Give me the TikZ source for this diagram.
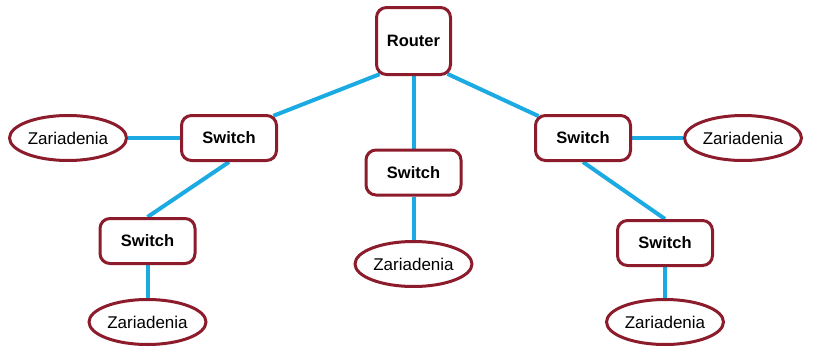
\documentclass[tikz,border=0pt]{standalone}
\usepackage{fontspec}
\setmainfont{Liberation Sans}
\usetikzlibrary{shapes.geometric,backgrounds}
\definecolor{boxred}{HTML}{8C1C2C}
\definecolor{linkblue}{HTML}{1BAAE2}
\begin{document}
\begin{tikzpicture}[x=1pt,y=-1pt,
  devbox/.style={draw=boxred,line width=3pt,rounded corners=10pt,fill=white,
    font=\fontsize{16.5}{19}\selectfont\bfseries,inner sep=0pt},
  swbox/.style={devbox,minimum width=95pt,minimum height=45pt},
  rtbox/.style={devbox,minimum width=74pt,minimum height=67pt},
  endnode/.style={ellipse,draw=boxred,line width=3pt,fill=white,inner sep=0pt,
    minimum width=117pt,minimum height=45pt,font=\fontsize{17}{20}\selectfont},
  link/.style={draw=linkblue,line width=4pt},
  diag/.style={link,shorten <=-5pt,shorten >=-5pt}]
\useasboundingbox (0,0) rectangle (815,356);
\node[rtbox] (r) at (413.5,41) {Router};
\node[swbox] (sl) at (229,138) {Switch};
\node[swbox] (sc) at (413.5,172.5) {Switch};
\node[swbox] (sr) at (583,138) {Switch};
\node[swbox] (sll) at (147.5,241) {Switch};
\node[swbox] (slr) at (665,243) {Switch};
\node[endnode] (el) at (68,138) {Zariadenia};
\node[endnode] (er) at (743,138) {Zariadenia};
\node[endnode] (ec) at (413.5,264) {Zariadenia};
\node[endnode] (ell) at (147.5,322) {Zariadenia};
\node[endnode] (elr) at (665,322) {Zariadenia};
\begin{pgfonlayer}{background}
\draw[diag] (r.south west) -- (sl.north east);
\draw[diag] (r.south east) -- (sr.north west);
\draw[link] (r.south) -- (sc.north);
\draw[link] (sl.south) -- (sll.north);
\draw[link] (sr.south) -- (slr.north);
\draw[link] (el.east) -- (sl.west);
\draw[link] (sr.east) -- (er.west);
\draw[link] (sc.south) -- (ec.north);
\draw[link] (sll.south) -- (ell.north);
\draw[link] (slr.south) -- (elr.north);
\end{pgfonlayer}
\end{tikzpicture}
\end{document}
